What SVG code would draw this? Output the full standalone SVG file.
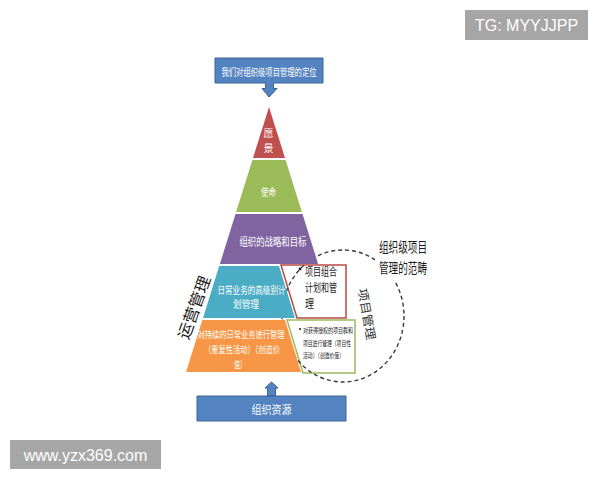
<svg xmlns="http://www.w3.org/2000/svg" width="600" height="480" viewBox="0 0 600 480">
<style>
.cjk{font-family:"Noto Sans CJK SC","Liberation Sans",sans-serif;}
.w{fill:#ffffff;}
.k{fill:#1a1a1a;}
.mid{text-anchor:middle;dominant-baseline:central;}
.st{dominant-baseline:central;}
.callout{fill:#5383c0;stroke:#3c6496;stroke-width:1;}
.wm{fill:#a6a6a6;}
.wmt{font-family:"Liberation Sans",Arial,sans-serif;fill:#ffffff;font-size:16px;text-anchor:middle;dominant-baseline:central;}
</style>
<rect width="600" height="480" fill="#ffffff"/>

<g id="top-box">
<path class="callout" d="M215,58 H323 V83 H273.5 V88.5 H277 L269,97 L262,88.5 H265.5 V83 H215 Z"/>
<text class="cjk w mid" x="269" y="71" font-size="10" textLength="95" lengthAdjust="spacingAndGlyphs">我们对组织级项目管理的定位</text>
</g>

<g id="scope-boxes">
<path id="portfolio-box" d="M281,265 H346 V318 H297 Z" fill="#ffffff" stroke="#b84a46" stroke-width="1.5"/>
<path id="program-box" d="M287,320 H355 V373 H303 Z" fill="#ffffff" stroke="#9bbb59" stroke-width="1.5"/>
</g>

<g id="scope-circle">
<ellipse cx="343" cy="316" rx="61" ry="66" fill="none" stroke="#3a3a3a" stroke-width="1.4" stroke-dasharray="4 3"/>
</g>

<g id="vision">
<polygon points="269,107 285,158 253,158" fill="#c0504d"/>
<text class="cjk w mid" x="268.5" y="132" font-size="10">愿</text>
<text class="cjk w mid" x="268.5" y="147" font-size="10">景</text>
</g>

<g id="mission">
<polygon points="252.4,160 285.6,160 301.9,212 236.1,212" fill="#9bbb59"/>
<text class="cjk w mid" x="268.5" y="191" font-size="10" textLength="15" lengthAdjust="spacingAndGlyphs">使命</text>
</g>

<g id="strategy">
<polygon points="235.5,214 302.5,214 318.1,264 219.9,264" fill="#8064a2"/>
<text class="cjk w mid" x="273" y="241" font-size="11" textLength="67" lengthAdjust="spacingAndGlyphs">组织的战略和目标</text>
</g>

<g id="ops-planning">
<polygon points="219.2,266 279,266 295,318 203,318" fill="#4bacc6"/>
<text class="cjk w mid" x="251.5" y="289" font-size="10" textLength="68" lengthAdjust="spacingAndGlyphs">日常业务的高级别计</text>
<text class="cjk w mid" x="246" y="303" font-size="10" textLength="26" lengthAdjust="spacingAndGlyphs">划管理</text>
</g>

<g id="ops-execution">
<polygon points="202.3,320 285,320 301,372 186.1,372" fill="#f79646"/>
<text class="cjk w mid" x="241" y="334" font-size="9.5" textLength="87" lengthAdjust="spacingAndGlyphs">对持续的日常业务进行管理</text>
<text class="cjk w mid" x="242" y="349" font-size="9.5" textLength="76" lengthAdjust="spacingAndGlyphs">（重复性活动）（创造价</text>
<text class="cjk w mid" x="240" y="364" font-size="9.5" textLength="12" lengthAdjust="spacingAndGlyphs">值）</text>
</g>

<g id="portfolio-text">
<circle cx="300" cy="269" r="1.4" fill="#1a1a1a"/>
<text class="cjk k st" x="305" y="271" font-size="11" textLength="32" lengthAdjust="spacingAndGlyphs">项目组合</text>
<text class="cjk k st" x="305" y="287" font-size="11" textLength="32" lengthAdjust="spacingAndGlyphs">计划和管</text>
<text class="cjk k st" x="305" y="303" font-size="11" textLength="9" lengthAdjust="spacingAndGlyphs">理</text>
</g>

<g id="program-text">
<circle cx="300" cy="329" r="1" fill="#1a1a1a"/>
<text class="cjk k st" x="303" y="330" font-size="7" textLength="50" lengthAdjust="spacingAndGlyphs">对获得授权的项目群和</text>
<text class="cjk k st" x="303" y="343" font-size="7" textLength="48" lengthAdjust="spacingAndGlyphs">项目进行管理（项目性</text>
<text class="cjk k st" x="303" y="355" font-size="7" textLength="41" lengthAdjust="spacingAndGlyphs">活动）（创造价值）</text>
</g>

<g id="bottom-box">
<path class="callout" d="M197,396 H346 V421 H197 Z M267.5,396 V388 H265 L271.5,382 L278,388 H275.5 V396 Z"/>
<text class="cjk w mid" x="271.5" y="409" font-size="11" textLength="40" lengthAdjust="spacingAndGlyphs">组织资源</text>
</g>

<g id="labels">
<rect x="375" y="235" width="56" height="45" fill="#ffffff"/>
<text class="cjk k mid" x="403" y="246" font-size="14" textLength="48" lengthAdjust="spacingAndGlyphs">组织级项目</text>
<text class="cjk k mid" x="403" y="267" font-size="14" textLength="48" lengthAdjust="spacingAndGlyphs">管理的范畴</text>
<text class="cjk k mid" transform="translate(193,307) rotate(-70)" x="0" y="0" font-size="16" textLength="66" lengthAdjust="spacingAndGlyphs">运营管理</text>
<text class="cjk mid" fill="#333333" transform="translate(368,314) rotate(80)" x="0" y="0" font-size="12" textLength="52" lengthAdjust="spacingAndGlyphs">项目管理</text>
</g>

<g id="watermarks">
<rect class="wm" x="465" y="10" width="123" height="30"/>
<text class="wmt" x="526.5" y="25.5">TG: MYYJJPP</text>
<rect class="wm" x="10" y="440" width="151" height="29"/>
<text class="wmt" x="85.5" y="455" font-size="17">www.yzx369.com</text>
</g>
</svg>
